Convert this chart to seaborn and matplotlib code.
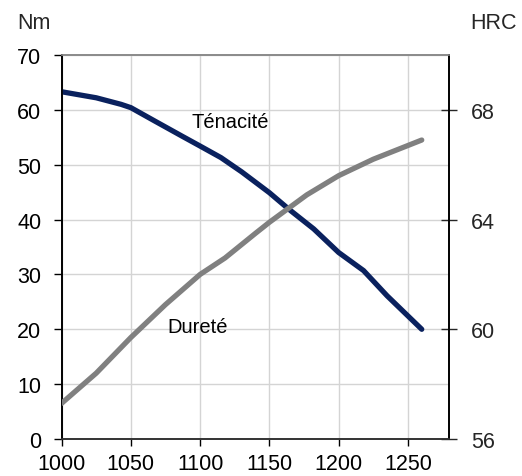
import numpy as np
import pandas as pd
import matplotlib
matplotlib.use("Agg")
import matplotlib.pyplot as plt
import seaborn as sns

# Données
temp_tenacite = [1000, 1025, 1043, 1050, 1067, 1087, 1100, 1115, 1130,
                 1150, 1164, 1182, 1200, 1218, 1235, 1260]
tenacite_nm = [63.3, 62.2, 61.0, 60.4, 58.0, 55.2, 53.4, 51.3, 48.7,
               44.9, 41.9, 38.3, 34.0, 30.7, 26.1, 20.0]

temp_durete = [1000, 1025, 1050, 1075, 1100, 1118, 1140, 1150, 1177, 1200, 1225, 1260]
durete_hrc = [57.3, 58.4, 59.7, 60.9, 62.0, 62.6, 63.5, 63.9, 64.9, 65.6, 66.2, 66.9]

x_ticks = [1000, 1050, 1100, 1150, 1200, 1250]
nm_ticks = [0, 10, 20, 30, 40, 50, 60, 70]
hrc_ticks = [56, 60, 64, 68]

sns.set_style("white")
plt.rcParams['font.family'] = ['Liberation Sans', 'DejaVu Sans']

df_ten = pd.DataFrame({'T': temp_tenacite, 'Nm': tenacite_nm})
df_dur = pd.DataFrame({'T': temp_durete, 'HRC': durete_hrc})

fig = plt.figure(figsize=(5.22, 4.77), dpi=100)
ax = fig.add_axes([0.118, 0.0776, 0.743, 0.805])
ax2 = ax.twinx()

# Grille
ax.set_axisbelow(True)
ax.grid(True, color='#d4d4d4', linewidth=1.0)

sns.lineplot(data=df_ten, x='T', y='Nm', ax=ax, color='#0a215e', linewidth=3.8,
             solid_capstyle='round', solid_joinstyle='round', zorder=3)
sns.lineplot(data=df_dur, x='T', y='HRC', ax=ax2, color='#808080', linewidth=3.8,
             solid_capstyle='round', solid_joinstyle='round', zorder=3)

ax.set_xlim(1000, 1280)
ax.set_ylim(0, 70)
ax2.set_ylim(56, 70)
ax.set_xticks(x_ticks)
ax.set_yticks(nm_ticks)
ax2.set_yticks(hrc_ticks)
ax.set_xlabel('')
ax.set_ylabel('')
ax2.set_ylabel('')

ax.tick_params(axis='both', labelsize=15.5, colors='black')
ax.tick_params(axis='y', direction='out', length=5.5, width=1, pad=9, left=True)
ax.tick_params(axis='x', direction='out', length=5, width=1, pad=5, bottom=True)
ax2.tick_params(axis='y', direction='inout', length=11, width=1, pad=10, labelsize=15.5, right=True)

for a in (ax, ax2):
    a.spines['top'].set_color('#8a8a8a')
    a.spines['left'].set_color('black')
    a.spines['right'].set_color('black')
    a.spines['bottom'].set_color('#333333')
    for s in a.spines.values():
        s.set_linewidth(1.2)

# Étiquettes des courbes
ax.text(1122, 57.8, 'Ténacité', fontsize=14.5, ha='center', va='center', color='black')
ax.text(1098, 20.5, 'Dureté', fontsize=14.5, ha='center', va='center', color='black')

# Unités
fig.text(34 / 522, 1 - 23.5 / 477, 'Nm', fontsize=15.5, ha='center', va='center')
fig.text(494 / 522, 1 - 23.5 / 477, 'HRC', fontsize=15.5, ha='center', va='center')

fig.savefig('out.png', dpi=100)
